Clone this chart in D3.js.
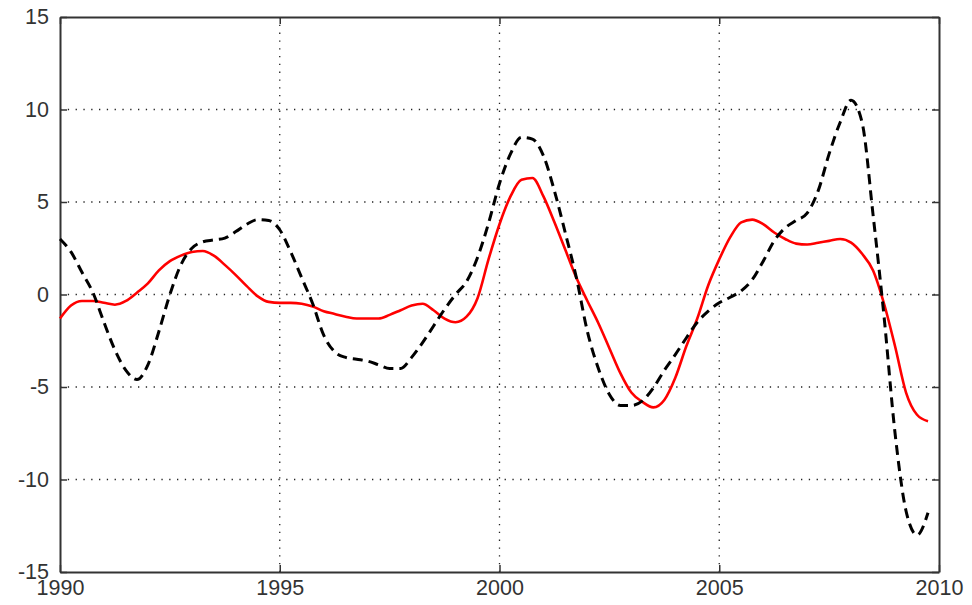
<!DOCTYPE html>
<html>
<head>
  <meta charset="utf-8">
  <script src="https://d3js.org/d3.v7.min.js"></script>
  <style>
    body { margin: 0; background: #fff; }
    .tick text { font-family: "Liberation Sans", Arial, sans-serif; font-size: 21.5px; fill: #333; }
  </style>
</head>
<body>
<script>
// quarterly observations, 1990Q1 .. 2009Q4
var startYear = 1990;
var dashedValues = [
   3.0,  2.3,  1.2,  0.1, -1.5, -3.0, -4.1, -4.6, -3.8, -2.0,
   0.0,  1.6,  2.5,  2.85, 2.95, 3.05, 3.4,  3.8,  4.05, 4.0,
   3.5,  2.3,  0.9, -0.5, -2.2, -3.1, -3.4, -3.5, -3.6, -3.8,
  -4.0, -4.0, -3.4, -2.6, -1.7, -0.8,  0.0,  0.7,  2.0,  3.85,
   6.0,  7.6,  8.5,  8.4,  7.5,  5.6,  3.3,  0.9, -2.0, -4.0,
  -5.4, -6.0, -6.0, -5.75, -5.05, -4.1, -3.25, -2.35, -1.5, -0.9,
  -0.45, -0.15, 0.2, 0.8,  1.8,  2.9,  3.6,  4.0,  4.4,  5.6,
   7.6,  9.3, 10.5,  9.3,  4.3, -1.2, -7.5, -11.7, -13.0, -11.8
];
var solidValues = [
  -1.3, -0.6, -0.35, -0.35, -0.45, -0.55, -0.35, 0.1,  0.6,  1.3,
   1.8,  2.1,  2.3,  2.35, 2.1,  1.6,  1.05, 0.45, -0.1, -0.4,
  -0.45, -0.45, -0.5, -0.65, -0.9, -1.05, -1.2, -1.3, -1.3, -1.3,
  -1.1, -0.85, -0.6, -0.5, -0.85, -1.3, -1.5, -1.2, -0.2, 1.9,
   3.8,  5.3,  6.2,  6.3,  5.3,  3.9,  2.4,  0.9, -0.35, -1.55,
  -2.9, -4.25, -5.3, -5.8, -6.1, -5.7, -4.5, -2.8, -1.3,  0.5,
   1.9,  3.1,  3.9,  4.05, 3.8,  3.35, 3.0,  2.75, 2.7,  2.8,
   2.9,  3.0,  2.8,  2.2,  1.3, -0.5, -2.8, -5.3, -6.5, -6.85
];
var xTicks = [1990, 1995, 2000, 2005, 2010];
var yTicks = [-15, -10, -5, 0, 5, 10, 15];

var width = 972, height = 605;
var margin = {top: 17, right: 33, bottom: 33, left: 60};
var iw = width - margin.left - margin.right,
    ih = height - margin.top - margin.bottom;

var svg = d3.select("body").append("svg")
    .attr("width", width)
    .attr("height", height);
var g = svg.append("g")
    .attr("transform", "translate(" + margin.left + "," + margin.top + ")");

var x = d3.scaleLinear().domain([1990, 2010]).range([0, iw]);
var y = d3.scaleLinear().domain([-15, 15]).range([ih, 0]);

function qx(d, i) { return x(startYear + i / 4); }
// plain hyphen for negatives, like the original
function plain(d) { return String(d); }

// dotted grid
g.append("g").selectAll("line").data(xTicks.slice(1, -1)).enter().append("line")
    .attr("x1", function(d) { return x(d); }).attr("x2", function(d) { return x(d); })
    .attr("y1", 0).attr("y2", ih)
    .attr("stroke", "#222").attr("stroke-width", 1.3).attr("stroke-dasharray", "1.3,6.5");
g.append("g").selectAll("line").data(yTicks.slice(1, -1)).enter().append("line")
    .attr("y1", function(d) { return y(d); }).attr("y2", function(d) { return y(d); })
    .attr("x1", 0).attr("x2", iw)
    .attr("stroke", "#222").attr("stroke-width", 1.3).attr("stroke-dasharray", "1.3,6.5");

// axes, ticks pointing inward on all sides
var xAxis = g.append("g").attr("transform", "translate(0," + ih + ")")
    .call(d3.axisBottom(x).tickValues(xTicks).tickFormat(plain).tickSizeInner(-7).tickSizeOuter(0).tickPadding(13));
var yAxis = g.append("g")
    .call(d3.axisLeft(y).tickValues(yTicks).tickFormat(plain).tickSizeInner(-7).tickSizeOuter(0).tickPadding(11));
g.append("g")
    .call(d3.axisTop(x).tickValues(xTicks).tickFormat("").tickSizeInner(-7).tickSizeOuter(0));
g.append("g").attr("transform", "translate(" + iw + ",0)")
    .call(d3.axisRight(y).tickValues(yTicks).tickFormat("").tickSizeInner(-7).tickSizeOuter(0));
g.selectAll(".domain").attr("stroke", "#333").attr("stroke-width", 2);
g.selectAll(".tick line").attr("stroke", "#333").attr("stroke-width", 1.5);
xAxis.selectAll(".tick text").attr("dy", "0.45em");

var line = d3.line()
    .x(qx)
    .y(function(d) { return y(d); })
    .curve(d3.curveMonotoneX);

g.append("path").datum(solidValues)
    .attr("d", line)
    .attr("fill", "none")
    .attr("stroke", "#ff0000")
    .attr("stroke-width", 2.6);

g.append("path").datum(dashedValues)
    .attr("d", line)
    .attr("fill", "none")
    .attr("stroke", "#000")
    .attr("stroke-width", 3)
    .attr("stroke-dasharray", "10,6");
</script>
</body>
</html>
